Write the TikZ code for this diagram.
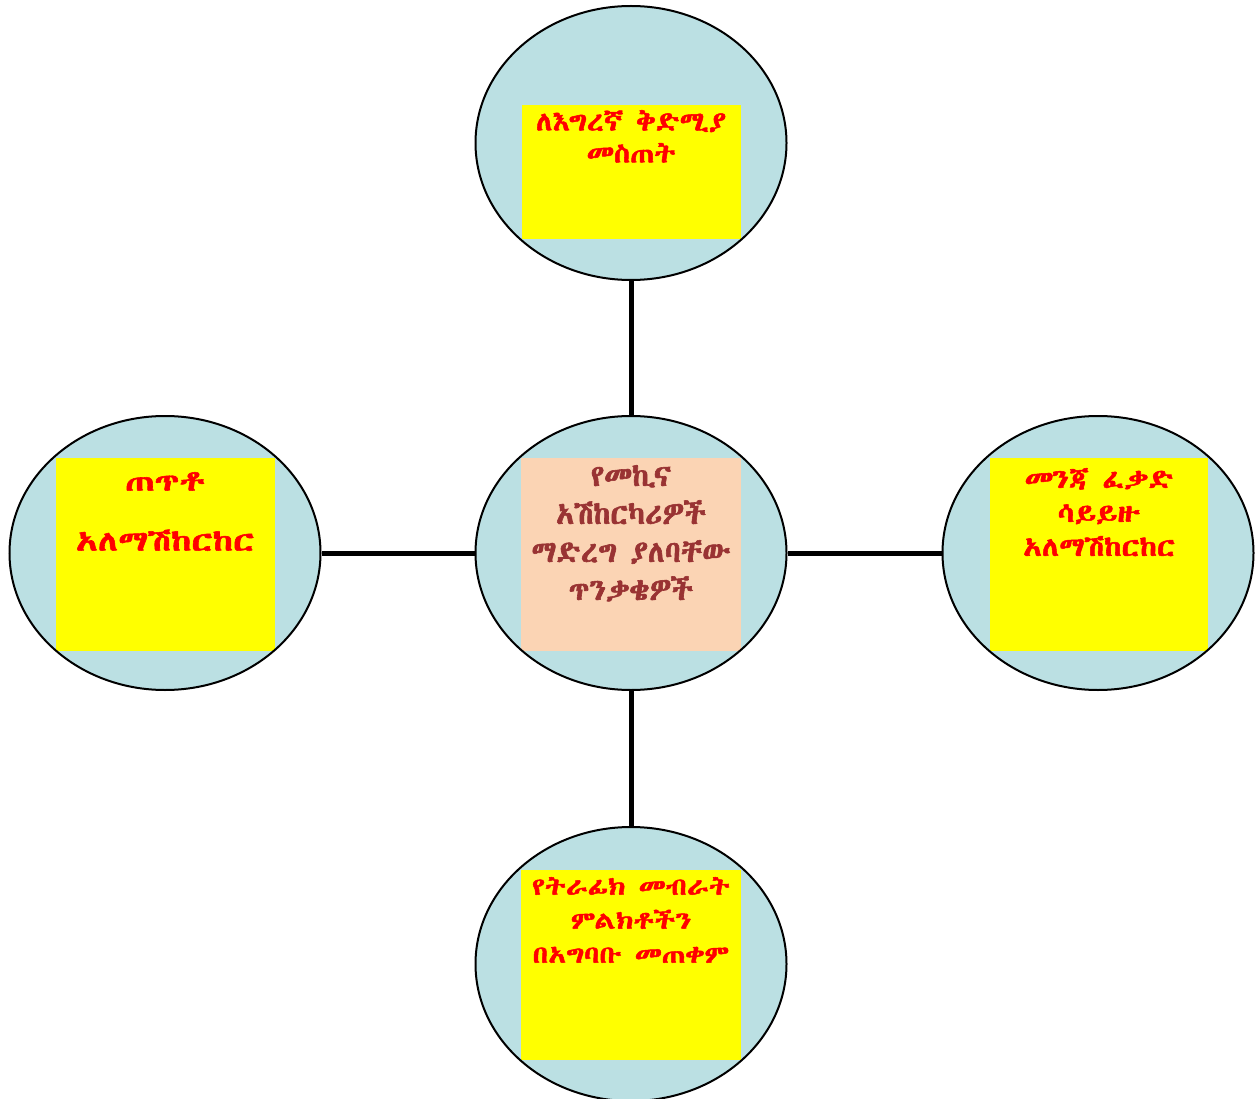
\documentclass[tikz,border=0pt]{standalone}
\usepackage{fontspec}
\usetikzlibrary{shapes.geometric,calc}
\IfFontExistsTF{Abyssinica SIL}{\newfontfamily\eth{Abyssinica SIL}[FakeBold=2]}{%
 \IfFontExistsTF{Noto Sans Ethiopic}{\newfontfamily\eth{Noto Sans Ethiopic}}{%
  \IfFontExistsTF{Noto Serif Ethiopic}{\newfontfamily\eth{Noto Serif Ethiopic}}{%
   \IfFontExistsTF{FreeSerif}{\newfontfamily\eth{FreeSerif}[FakeBold=2]}{%
    \newfontfamily\eth{DejaVu Sans}}}}}
\definecolor{ellblue}{RGB}{187,224,227}
\definecolor{peach}{RGB}{251,212,180}
\definecolor{boxyellow}{RGB}{255,255,0}
\definecolor{lblred}{RGB}{255,0,0}
\definecolor{darkred}{RGB}{153,51,51}
\newcommand\ethsize[3]{\eth\bfseries\fontsize{#1}{#2}\selectfont\addfontfeatures{FakeStretch=#3}}
\begin{document}
\begin{tikzpicture}[x=1pt,y=-1pt,
  bubble/.style={ellipse, draw=black, line width=2pt, fill=ellblue,
    minimum width=311pt, minimum height=274pt, inner sep=0pt},
  inbox/.style n args={5}{path picture={\fill[#5]
    ($(path picture bounding box.center)+(#1,#2)$) rectangle
    ($(path picture bounding box.center)+(#3,#4)$);}},
  link/.style={line width=5pt},
  lbl/.style={text=lblred, align=center, inner sep=0pt, anchor=north},
]
\useasboundingbox (0,0) rectangle (1256,1099);
\node[bubble, inbox={-109}{-38}{110}{96}{boxyellow}] (top) at (631,143) {};
\node[bubble, inbox={-110}{-95}{110}{98}{peach}] (hub) at (631,553) {};
\node[bubble, inbox={-109}{-95}{110}{98}{boxyellow}] (left) at (165,553) {};
\node[bubble, inbox={-108}{-95}{110}{98}{boxyellow}] (right) at (1098,553) {};
\node[bubble, inbox={-110}{-94}{110}{96}{boxyellow}] (bottom) at (631,964) {};
\draw[link] (top.south) -- (hub.north);
\draw[link] (hub.south) -- (bottom.north);
\draw[link] (left.east) -- (hub.west);
\draw[link] (hub.east) -- (right.west);
\node[lbl, font={\ethsize{26.5}{32}{1.11}}] (topt) at (631,110) {ለእግረኛ ቅድሚያ\\መስጠት};
\node[lbl, text=darkred, font={\ethsize{30}{38}{1.0}}] (hubt) at (631,465)
  {የመኪና\\አሽከርካሪዎች\\ማድረግ ያለባቸው\\ጥንቃቄዎች};
\node[lbl, font={\ethsize{28}{30}{1.29}}] (leftt) at (165,472)
  {ጠጥቶ\\[30pt]አለማሽከርከር};
\node[lbl, font={\ethsize{26.5}{34}{1.16}}] (rightt) at (1099,468)
  {መንጃ ፈቃድ\\ሳይይዙ\\አለማሽከርከር};
\node[lbl, font={\ethsize{24}{34}{1.21}}] (bottomt) at (631,877)
  {የትራፊክ መብራት\\ምልክቶችን\\በአግባቡ መጠቀም};
\end{tikzpicture}
\end{document}
